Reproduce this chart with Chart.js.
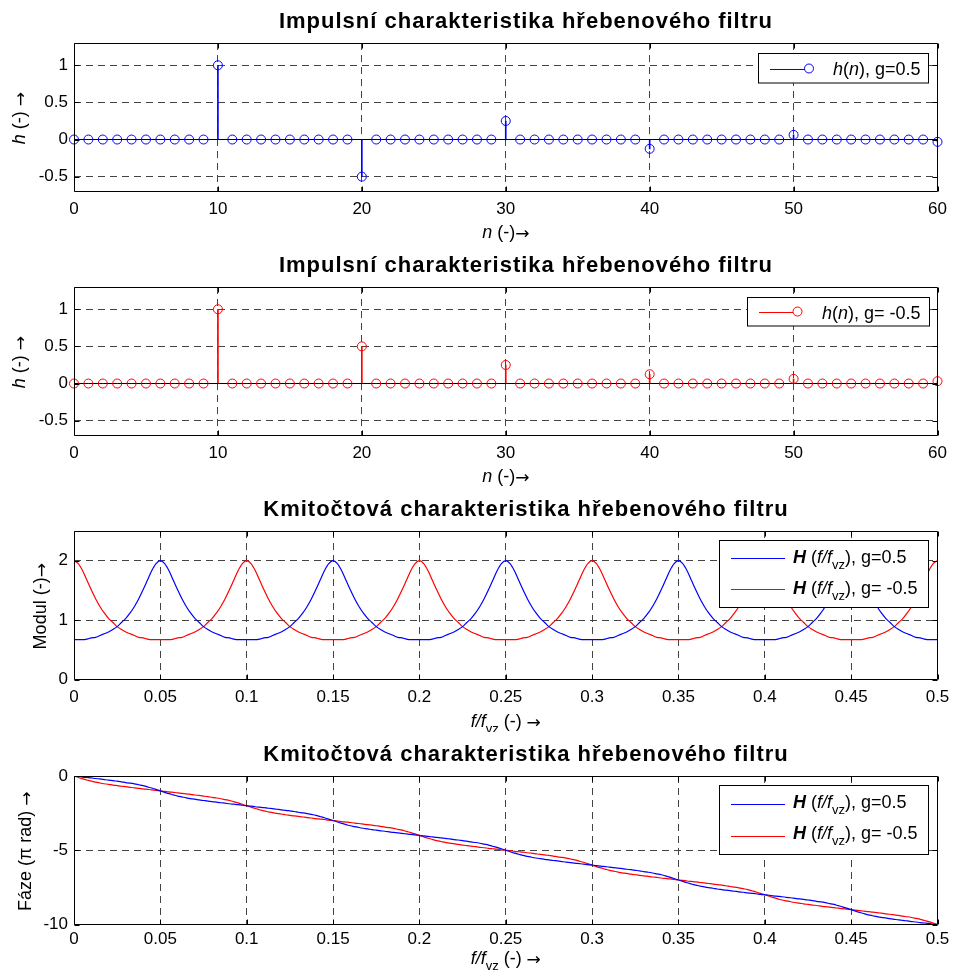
<!DOCTYPE html>
<html>
<head>
<meta charset="utf-8">
<script src="https://cdn.jsdelivr.net/npm/chart.js@4.4.0/dist/chart.umd.min.js"></script>
<style>
  body { margin: 0; background: #fff; }
  #wrap { position: relative; width: 953px; height: 979px; overflow: hidden; background: #fff; }
  canvas { position: absolute; left: 0; }
</style>
</head>
<body>
<div id="wrap">
  <canvas id="c1" width="953" height="244" style="top:0px"></canvas>
  <canvas id="c2" width="953" height="244" style="top:244px"></canvas>
  <canvas id="c3" width="953" height="244" style="top:488px"></canvas>
  <canvas id="c4" width="953" height="246" style="top:733px"></canvas>
</div>
<script>
// sample index n
const nIdx = [
  0, 1, 2, 3, 4, 5, 6, 7, 8, 9, 10, 11, 12, 13, 14, 15, 16, 17, 18, 19,
  20, 21, 22, 23, 24, 25, 26, 27, 28, 29, 30, 31, 32, 33, 34, 35, 36, 37, 38, 39,
  40, 41, 42, 43, 44, 45, 46, 47, 48, 49, 50, 51, 52, 53, 54, 55, 56, 57, 58, 59,
  60
];

// impulse response, g = 0.5
const hPos = [
  0, 0, 0, 0, 0, 0, 0, 0, 0, 0,
  1, 0, 0, 0, 0, 0, 0, 0, 0, 0,
  -0.5, 0, 0, 0, 0, 0, 0, 0, 0, 0,
  0.25, 0, 0, 0, 0, 0, 0, 0, 0, 0,
  -0.125, 0, 0, 0, 0, 0, 0, 0, 0, 0,
  0.0625, 0, 0, 0, 0, 0, 0, 0, 0, 0,
  -0.03125
];

// impulse response, g = -0.5
const hNeg = [
  0, 0, 0, 0, 0, 0, 0, 0, 0, 0,
  1, 0, 0, 0, 0, 0, 0, 0, 0, 0,
  0.5, 0, 0, 0, 0, 0, 0, 0, 0, 0,
  0.25, 0, 0, 0, 0, 0, 0, 0, 0, 0,
  0.125, 0, 0, 0, 0, 0, 0, 0, 0, 0,
  0.0625, 0, 0, 0, 0, 0, 0, 0, 0, 0,
  0.03125
];

// normalised frequency f/fvz
const freq = [
  0, 0.0025, 0.005, 0.0075, 0.01, 0.0125, 0.015, 0.0175, 0.02, 0.0225, 0.025, 0.0275, 0.03, 0.0325, 0.035, 0.0375, 0.04, 0.0425, 0.045, 0.0475,
  0.05, 0.0525, 0.055, 0.0575, 0.06, 0.0625, 0.065, 0.0675, 0.07, 0.0725, 0.075, 0.0775, 0.08, 0.0825, 0.085, 0.0875, 0.09, 0.0925, 0.095, 0.0975,
  0.1, 0.1025, 0.105, 0.1075, 0.11, 0.1125, 0.115, 0.1175, 0.12, 0.1225, 0.125, 0.1275, 0.13, 0.1325, 0.135, 0.1375, 0.14, 0.1425, 0.145, 0.1475,
  0.15, 0.1525, 0.155, 0.1575, 0.16, 0.1625, 0.165, 0.1675, 0.17, 0.1725, 0.175, 0.1775, 0.18, 0.1825, 0.185, 0.1875, 0.19, 0.1925, 0.195, 0.1975,
  0.2, 0.2025, 0.205, 0.2075, 0.21, 0.2125, 0.215, 0.2175, 0.22, 0.2225, 0.225, 0.2275, 0.23, 0.2325, 0.235, 0.2375, 0.24, 0.2425, 0.245, 0.2475,
  0.25, 0.2525, 0.255, 0.2575, 0.26, 0.2625, 0.265, 0.2675, 0.27, 0.2725, 0.275, 0.2775, 0.28, 0.2825, 0.285, 0.2875, 0.29, 0.2925, 0.295, 0.2975,
  0.3, 0.3025, 0.305, 0.3075, 0.31, 0.3125, 0.315, 0.3175, 0.32, 0.3225, 0.325, 0.3275, 0.33, 0.3325, 0.335, 0.3375, 0.34, 0.3425, 0.345, 0.3475,
  0.35, 0.3525, 0.355, 0.3575, 0.36, 0.3625, 0.365, 0.3675, 0.37, 0.3725, 0.375, 0.3775, 0.38, 0.3825, 0.385, 0.3875, 0.39, 0.3925, 0.395, 0.3975,
  0.4, 0.4025, 0.405, 0.4075, 0.41, 0.4125, 0.415, 0.4175, 0.42, 0.4225, 0.425, 0.4275, 0.43, 0.4325, 0.435, 0.4375, 0.44, 0.4425, 0.445, 0.4475,
  0.45, 0.4525, 0.455, 0.4575, 0.46, 0.4625, 0.465, 0.4675, 0.47, 0.4725, 0.475, 0.4775, 0.48, 0.4825, 0.485, 0.4875, 0.49, 0.4925, 0.495, 0.4975,
  0.5
];

// magnitude |H|, g = 0.5
const modPos = [
  0.67, 0.67, 0.67, 0.68, 0.7, 0.71, 0.74, 0.77, 0.8, 0.84, 0.89, 0.96, 1.03, 1.12, 1.23, 1.36, 1.51, 1.67, 1.83, 1.95,
  2, 1.95, 1.83, 1.67, 1.51, 1.36, 1.23, 1.12, 1.03, 0.96, 0.89, 0.84, 0.8, 0.77, 0.74, 0.71, 0.7, 0.68, 0.67, 0.67,
  0.67, 0.67, 0.67, 0.68, 0.7, 0.71, 0.74, 0.77, 0.8, 0.84, 0.89, 0.96, 1.03, 1.12, 1.23, 1.36, 1.51, 1.67, 1.83, 1.95,
  2, 1.95, 1.83, 1.67, 1.51, 1.36, 1.23, 1.12, 1.03, 0.96, 0.89, 0.84, 0.8, 0.77, 0.74, 0.71, 0.7, 0.68, 0.67, 0.67,
  0.67, 0.67, 0.67, 0.68, 0.7, 0.71, 0.74, 0.77, 0.8, 0.84, 0.89, 0.96, 1.03, 1.12, 1.23, 1.36, 1.51, 1.67, 1.83, 1.95,
  2, 1.95, 1.83, 1.67, 1.51, 1.36, 1.23, 1.12, 1.03, 0.96, 0.89, 0.84, 0.8, 0.77, 0.74, 0.71, 0.7, 0.68, 0.67, 0.67,
  0.67, 0.67, 0.67, 0.68, 0.7, 0.71, 0.74, 0.77, 0.8, 0.84, 0.89, 0.96, 1.03, 1.12, 1.23, 1.36, 1.51, 1.67, 1.83, 1.95,
  2, 1.95, 1.83, 1.67, 1.51, 1.36, 1.23, 1.12, 1.03, 0.96, 0.89, 0.84, 0.8, 0.77, 0.74, 0.71, 0.7, 0.68, 0.67, 0.67,
  0.67, 0.67, 0.67, 0.68, 0.7, 0.71, 0.74, 0.77, 0.8, 0.84, 0.89, 0.96, 1.03, 1.12, 1.23, 1.36, 1.51, 1.67, 1.83, 1.95,
  2, 1.95, 1.83, 1.67, 1.51, 1.36, 1.23, 1.12, 1.03, 0.96, 0.89, 0.84, 0.8, 0.77, 0.74, 0.71, 0.7, 0.68, 0.67, 0.67,
  0.67
];

// magnitude |H|, g = -0.5
const modNeg = [
  2, 1.95, 1.83, 1.67, 1.51, 1.36, 1.23, 1.12, 1.03, 0.96, 0.89, 0.84, 0.8, 0.77, 0.74, 0.71, 0.7, 0.68, 0.67, 0.67,
  0.67, 0.67, 0.67, 0.68, 0.7, 0.71, 0.74, 0.77, 0.8, 0.84, 0.89, 0.96, 1.03, 1.12, 1.23, 1.36, 1.51, 1.67, 1.83, 1.95,
  2, 1.95, 1.83, 1.67, 1.51, 1.36, 1.23, 1.12, 1.03, 0.96, 0.89, 0.84, 0.8, 0.77, 0.74, 0.71, 0.7, 0.68, 0.67, 0.67,
  0.67, 0.67, 0.67, 0.68, 0.7, 0.71, 0.74, 0.77, 0.8, 0.84, 0.89, 0.96, 1.03, 1.12, 1.23, 1.36, 1.51, 1.67, 1.83, 1.95,
  2, 1.95, 1.83, 1.67, 1.51, 1.36, 1.23, 1.12, 1.03, 0.96, 0.89, 0.84, 0.8, 0.77, 0.74, 0.71, 0.7, 0.68, 0.67, 0.67,
  0.67, 0.67, 0.67, 0.68, 0.7, 0.71, 0.74, 0.77, 0.8, 0.84, 0.89, 0.96, 1.03, 1.12, 1.23, 1.36, 1.51, 1.67, 1.83, 1.95,
  2, 1.95, 1.83, 1.67, 1.51, 1.36, 1.23, 1.12, 1.03, 0.96, 0.89, 0.84, 0.8, 0.77, 0.74, 0.71, 0.7, 0.68, 0.67, 0.67,
  0.67, 0.67, 0.67, 0.68, 0.7, 0.71, 0.74, 0.77, 0.8, 0.84, 0.89, 0.96, 1.03, 1.12, 1.23, 1.36, 1.51, 1.67, 1.83, 1.95,
  2, 1.95, 1.83, 1.67, 1.51, 1.36, 1.23, 1.12, 1.03, 0.96, 0.89, 0.84, 0.8, 0.77, 0.74, 0.71, 0.7, 0.68, 0.67, 0.67,
  0.67, 0.67, 0.67, 0.68, 0.7, 0.71, 0.74, 0.77, 0.8, 0.84, 0.89, 0.96, 1.03, 1.12, 1.23, 1.36, 1.51, 1.67, 1.83, 1.95,
  2
];

// phase (pi rad), g = 0.5
const phasePos = [
  0, -0.03, -0.07, -0.1, -0.13, -0.17, -0.2, -0.24, -0.28, -0.31, -0.35, -0.39, -0.44, -0.48, -0.53, -0.59, -0.65, -0.73, -0.81, -0.9,
  -1, -1.1, -1.19, -1.27, -1.35, -1.41, -1.47, -1.52, -1.56, -1.61, -1.65, -1.69, -1.72, -1.76, -1.8, -1.83, -1.87, -1.9, -1.93, -1.97,
  -2, -2.03, -2.07, -2.1, -2.13, -2.17, -2.2, -2.24, -2.28, -2.31, -2.35, -2.39, -2.44, -2.48, -2.53, -2.59, -2.65, -2.73, -2.81, -2.9,
  -3, -3.1, -3.19, -3.27, -3.35, -3.41, -3.47, -3.52, -3.56, -3.61, -3.65, -3.69, -3.72, -3.76, -3.8, -3.83, -3.87, -3.9, -3.93, -3.97,
  -4, -4.03, -4.07, -4.1, -4.13, -4.17, -4.2, -4.24, -4.28, -4.31, -4.35, -4.39, -4.44, -4.48, -4.53, -4.59, -4.65, -4.73, -4.81, -4.9,
  -5, -5.1, -5.19, -5.27, -5.35, -5.41, -5.47, -5.52, -5.56, -5.61, -5.65, -5.69, -5.72, -5.76, -5.8, -5.83, -5.87, -5.9, -5.93, -5.97,
  -6, -6.03, -6.07, -6.1, -6.13, -6.17, -6.2, -6.24, -6.28, -6.31, -6.35, -6.39, -6.44, -6.48, -6.53, -6.59, -6.65, -6.73, -6.81, -6.9,
  -7, -7.1, -7.19, -7.27, -7.35, -7.41, -7.47, -7.52, -7.56, -7.61, -7.65, -7.69, -7.72, -7.76, -7.8, -7.83, -7.87, -7.9, -7.93, -7.97,
  -8, -8.03, -8.07, -8.1, -8.13, -8.17, -8.2, -8.24, -8.28, -8.31, -8.35, -8.39, -8.44, -8.48, -8.53, -8.59, -8.65, -8.73, -8.81, -8.9,
  -9, -9.1, -9.19, -9.27, -9.35, -9.41, -9.47, -9.52, -9.56, -9.61, -9.65, -9.69, -9.72, -9.76, -9.8, -9.83, -9.87, -9.9, -9.93, -9.97,
  -10
];

// phase (pi rad), g = -0.5
const phaseNeg = [
  0, -0.1, -0.19, -0.27, -0.35, -0.41, -0.47, -0.52, -0.56, -0.61, -0.65, -0.69, -0.72, -0.76, -0.8, -0.83, -0.87, -0.9, -0.93, -0.97,
  -1, -1.03, -1.07, -1.1, -1.13, -1.17, -1.2, -1.24, -1.28, -1.31, -1.35, -1.39, -1.44, -1.48, -1.53, -1.59, -1.65, -1.73, -1.81, -1.9,
  -2, -2.1, -2.19, -2.27, -2.35, -2.41, -2.47, -2.52, -2.56, -2.61, -2.65, -2.69, -2.72, -2.76, -2.8, -2.83, -2.87, -2.9, -2.93, -2.97,
  -3, -3.03, -3.07, -3.1, -3.13, -3.17, -3.2, -3.24, -3.28, -3.31, -3.35, -3.39, -3.44, -3.48, -3.53, -3.59, -3.65, -3.73, -3.81, -3.9,
  -4, -4.1, -4.19, -4.27, -4.35, -4.41, -4.47, -4.52, -4.56, -4.61, -4.65, -4.69, -4.72, -4.76, -4.8, -4.83, -4.87, -4.9, -4.93, -4.97,
  -5, -5.03, -5.07, -5.1, -5.13, -5.17, -5.2, -5.24, -5.28, -5.31, -5.35, -5.39, -5.44, -5.48, -5.53, -5.59, -5.65, -5.73, -5.81, -5.9,
  -6, -6.1, -6.19, -6.27, -6.35, -6.41, -6.47, -6.52, -6.56, -6.61, -6.65, -6.69, -6.72, -6.76, -6.8, -6.83, -6.87, -6.9, -6.93, -6.97,
  -7, -7.03, -7.07, -7.1, -7.13, -7.17, -7.2, -7.24, -7.28, -7.31, -7.35, -7.39, -7.44, -7.48, -7.53, -7.59, -7.65, -7.73, -7.81, -7.9,
  -8, -8.1, -8.19, -8.27, -8.35, -8.41, -8.47, -8.52, -8.56, -8.61, -8.65, -8.69, -8.72, -8.76, -8.8, -8.83, -8.87, -8.9, -8.93, -8.97,
  -9, -9.03, -9.07, -9.1, -9.13, -9.17, -9.2, -9.24, -9.28, -9.31, -9.35, -9.39, -9.44, -9.48, -9.53, -9.59, -9.65, -9.73, -9.81, -9.9,
  -10
];

// tick values
const nTicks = [0, 10, 20, 30, 40, 50, 60];
const hTicks = [-0.5, 0, 0.5, 1];
const fTicks = [0, 0.05, 0.1, 0.15, 0.2, 0.25, 0.3, 0.35, 0.4, 0.45, 0.5];
const modTicks = [0, 1, 2];
const phaseTicks = [-10, -5, 0];

const BLUE = '#0000ff';
const RED = '#ff0000';
const FONT = '"Liberation Sans", Arial, Helvetica, sans-serif';
const ARROW_FONT = '"DejaVu Sans", sans-serif';
const PLOT_H = 148.5;
const TITLE_IMP = 'Impulsní charakteristika hřebenového filtru';
const TITLE_FRQ = 'Kmitočtová charakteristika hřebenového filtru';

// draws text made of parts with different styles (italic, bold, subscript, arrow)
function richText(ctx, parts, x, y, align) {
  let w = 0;
  const fonts = parts.map(p => {
    const size = p.sub ? 13 : (p.arrow ? 17 : 18);
    const f = (p.s || '') + ' ' + size + 'px ' + (p.arrow ? ARROW_FONT : FONT);
    ctx.font = f;
    const pw = ctx.measureText(p.t).width;
    w += pw;
    return { f, pw };
  });
  let cx = align === 'center' ? x - w / 2 : x;
  ctx.textAlign = 'left';
  ctx.textBaseline = 'alphabetic';
  parts.forEach((p, i) => {
    ctx.font = fonts[i].f;
    ctx.fillText(p.t, cx, y + (p.sub ? 6 : 0) + (p.arrow ? 1 : 0));
    cx += fonts[i].pw;
  });
}

const matlabLook = {
  id: 'matlabLook',
  afterDraw(chart, args, o) {
    const ctx = chart.ctx, a = chart.chartArea;
    const xs = chart.scales.x, ys = chart.scales.y;
    const L = Math.round(a.left) + 0.5, R = Math.round(a.right) - 0.5;
    const T = Math.round(a.top) + 0.5, B = Math.round(a.bottom) - 0.5;
    ctx.save();
    ctx.strokeStyle = '#000';
    ctx.lineWidth = 1;
    ctx.beginPath();
    xs.ticks.forEach(t => {
      const px = Math.round(xs.getPixelForValue(t.value)) + 0.5;
      ctx.moveTo(px, B); ctx.lineTo(px, B - 5);
      ctx.moveTo(px, T); ctx.lineTo(px, T + 5);
    });
    ys.ticks.forEach(t => {
      const py = Math.round(ys.getPixelForValue(t.value)) + 0.5;
      ctx.moveTo(L, py); ctx.lineTo(L + 5, py);
      ctx.moveTo(R, py); ctx.lineTo(R - 5, py);
    });
    ctx.rect(L, T, R - L, B - T);
    ctx.stroke();

    ctx.fillStyle = '#000';
    // title
    ctx.font = 'bold 22px ' + FONT;
    ctx.letterSpacing = '1px';
    ctx.textAlign = 'center';
    ctx.fillText(o.title, 526, a.top - 15);
    ctx.letterSpacing = '0px';

    // x label
    richText(ctx, o.xLabel, (a.left + a.right) / 2, a.top + o.xLabelY, 'center');

    // y label
    ctx.save();
    ctx.translate(o.yLabelX, a.top + PLOT_H / 2 + 1);
    ctx.rotate(-Math.PI / 2);
    richText(ctx, o.yLabel, 0, 0, 'center');
    ctx.restore();

    // legend
    const lg = o.legend;
    const top = Math.round(a.top + lg.top) + 0.5;
    ctx.fillStyle = '#fff';
    ctx.fillRect(lg.x1 + 0.5, top, lg.x2 - lg.x1, lg.h);
    ctx.strokeStyle = '#000';
    ctx.strokeRect(lg.x1 + 0.5, top, lg.x2 - lg.x1, lg.h);
    lg.items.forEach(it => {
      ctx.strokeStyle = it.color;
      ctx.lineWidth = 1.2;
      ctx.beginPath();
      ctx.moveTo(lg.lx1, Math.round(top + it.ly) + 0.5);
      ctx.lineTo(lg.lx2, Math.round(top + it.ly) + 0.5);
      ctx.stroke();
      if (lg.marker) {
        ctx.lineWidth = 1;
        ctx.beginPath();
        ctx.arc(lg.marker, top + it.ly, 4.5, 0, Math.PI * 2);
        ctx.stroke();
      }
      ctx.fillStyle = '#000';
      richText(ctx, it.parts, lg.tx, top + it.ty, 'left');
    });
    ctx.restore();
  }
};

function scaleOpts(ticksArr, min, max, solidZero) {
  const edge = v => v === min || v === max;
  return {
    type: 'linear',
    min: min,
    max: max,
    offset: false,
    afterBuildTicks: s => { s.ticks = ticksArr.map(v => ({ value: v })); },
    grid: {
      color: c => {
        if (!c.tick) return '#444';
        if (edge(c.tick.value)) return 'rgba(0,0,0,0)';
        return (solidZero && c.tick.value === 0) ? '#000' : '#444';
      },
      lineWidth: 1,
      drawTicks: false,
      offset: false
    },
    border: {
      display: false,
      dash: c => (solidZero && c.tick && c.tick.value === 0) ? [] : [7, 5]
    },
    ticks: {
      color: '#000',
      font: { family: FONT, size: 17 },
      padding: 6,
      autoSkip: false,
      maxRotation: 0,
      callback: v => String(v)
    }
  };
}

function makeChart(id, canvasH, type, labels, datasets, xScale, yScale, look, xPad) {
  xScale.afterFit = s => {
    s.height = canvasH - 43 - PLOT_H;
    // keep the plot box at a fixed width; edge labels may overhang
    s.paddingLeft = 0;
    s.paddingRight = 0;
  };
  xScale.ticks.padding = xPad;
  yScale.afterFit = s => { s.width = 74; };
  return new Chart(document.getElementById(id), {
    type: type,
    data: { labels: labels, datasets: datasets },
    options: {
      responsive: false,
      animation: false,
      events: [],
      layout: { padding: { top: 43, left: 0, right: 15.5, bottom: 0 } },
      scales: { x: xScale, y: yScale },
      plugins: {
        legend: { display: false },
        title: { display: false },
        tooltip: { enabled: false },
        matlabLook: look
      }
    },
    plugins: [matlabLook]
  });
}

function stemSets(values, color) {
  return [
    {
      type: 'line', data: values, showLine: false, clip: false,
      pointRadius: 4.5, pointStyle: 'circle', pointBorderColor: color,
      pointBackgroundColor: 'rgba(0,0,0,0)', pointBorderWidth: 1, order: 0
    },
    {
      type: 'bar', data: values, backgroundColor: color, borderWidth: 0,
      barThickness: 1, order: 1
    }
  ];
}

function curveSet(values, color) {
  return {
    type: 'line', data: values, borderColor: color, borderWidth: 1.2,
    pointRadius: 0, cubicInterpolationMode: 'monotone', fill: false
  };
}

const hLabel = [{ t: 'h', s: 'italic' }, { t: ' (-) ' }, { t: '\u2192', arrow: true }];
const nLabel = [{ t: 'n', s: 'italic' }, { t: ' (-)' }, { t: '\u2192', arrow: true }];
const fLabel = [{ t: 'f/f', s: 'italic' }, { t: 'vz', sub: true }, { t: ' (-) ' }, { t: '\u2192', arrow: true }];
const modLabel = [{ t: 'Modul (-)' }, { t: '\u2192', arrow: true }];
const phaseLabel = [{ t: 'F\u00e1ze (\u03c0 rad) ' }, { t: '\u2192', arrow: true }];

makeChart('c1', 244, 'bar', nIdx, stemSets(hPos, BLUE),
  scaleOpts(nTicks, 0, 60, false), scaleOpts(hTicks, -0.7, 1.3, true),
  {
    title: TITLE_IMP, xLabel: nLabel, xLabelY: PLOT_H + 46, yLabel: hLabel, yLabelX: 25,
    legend: {
      x1: 758, x2: 928, top: 9.5, h: 29.5, lx1: 770, lx2: 805, marker: 809, tx: 833,
      items: [{ color: BLUE, ly: 15, ty: 21.5,
        parts: [{ t: 'h', s: 'italic' }, { t: '(' }, { t: 'n', s: 'italic' }, { t: '), g=0.5' }] }]
    }
  }, 8);

makeChart('c2', 244, 'bar', nIdx, stemSets(hNeg, RED),
  scaleOpts(nTicks, 0, 60, false), scaleOpts(hTicks, -0.7, 1.3, true),
  {
    title: TITLE_IMP, xLabel: nLabel, xLabelY: PLOT_H + 46, yLabel: hLabel, yLabelX: 25,
    legend: {
      x1: 747, x2: 929, top: 10, h: 28.5, lx1: 759, lx2: 793, marker: 797.5, tx: 822,
      items: [{ color: RED, ly: 14, ty: 21.5,
        parts: [{ t: 'h', s: 'italic' }, { t: '(' }, { t: 'n', s: 'italic' }, { t: '), g= -0.5' }] }]
    }
  }, 8);

makeChart('c3', 244, 'line', freq, [curveSet(modPos, BLUE), curveSet(modNeg, RED)],
  scaleOpts(fTicks, 0, 0.5, false), scaleOpts(modTicks, 0, 2.5, false),
  {
    title: TITLE_FRQ, xLabel: fLabel, xLabelY: PLOT_H + 47, yLabel: modLabel, yLabelX: 46,
    legend: {
      x1: 719, x2: 928, top: 9, h: 67, lx1: 731, lx2: 785, marker: 0, tx: 793,
      items: [
        { color: BLUE, ly: 17.5, ty: 22,
          parts: [{ t: 'H', s: 'bold italic' }, { t: ' (' }, { t: 'f/f', s: 'italic' }, { t: 'vz', sub: true }, { t: '), g=0.5' }] },
        { color: RED, ly: 48.5, ty: 53,
          parts: [{ t: 'H', s: 'bold italic' }, { t: ' (' }, { t: 'f/f', s: 'italic' }, { t: 'vz', sub: true }, { t: '), g= -0.5' }] }
      ]
    }
  }, 8);

makeChart('c4', 246, 'line', freq, [curveSet(phasePos, BLUE), curveSet(phaseNeg, RED)],
  scaleOpts(fTicks, 0, 0.5, false), scaleOpts(phaseTicks, -10, 0, false),
  {
    title: TITLE_FRQ, xLabel: fLabel, xLabelY: PLOT_H + 39, yLabel: phaseLabel, yLabelX: 30.5,
    legend: {
      x1: 719, x2: 928, top: 8.5, h: 69, lx1: 731, lx2: 785, marker: 0, tx: 793,
      items: [
        { color: BLUE, ly: 18, ty: 22.5,
          parts: [{ t: 'H', s: 'bold italic' }, { t: ' (' }, { t: 'f/f', s: 'italic' }, { t: 'vz', sub: true }, { t: '), g=0.5' }] },
        { color: RED, ly: 50, ty: 53.5,
          parts: [{ t: 'H', s: 'bold italic' }, { t: ' (' }, { t: 'f/f', s: 'italic' }, { t: 'vz', sub: true }, { t: '), g= -0.5' }] }
      ]
    }
  }, 5);
</script>
</body>
</html>
